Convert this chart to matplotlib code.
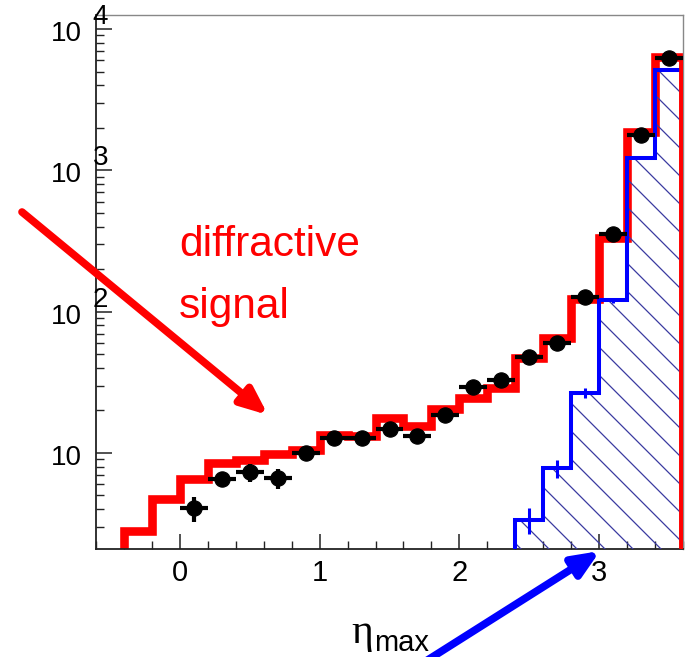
import numpy as np
import matplotlib
matplotlib.use("Agg")
import matplotlib.pyplot as plt
from matplotlib.patches import FancyArrowPatch
from matplotlib.ticker import MultipleLocator, LogLocator, NullFormatter, FixedLocator

# render at 84 dpi so that the hatch spacing (6 lines / inch) is ~14 px;
# all sizes below are given as "points at 100 dpi" and scaled by S
DPI = 84
S = 100.0 / DPI

plt.rcParams['font.family'] = ['Liberation Sans', 'DejaVu Sans']
plt.rcParams['hatch.linewidth'] = 0.9 * S

# ---------------- data ----------------
bin_edges = np.round(np.arange(-0.4, 3.6001, 0.2), 1)          # 20 bins
red_signal = [2.8, 4.7, 6.5, 8.5, 8.9, 9.8, 10.5, 13.4, 13.2, 17.7,
              15.5, 20.5, 24.6, 29.0, 47.0, 65.0, 122.0, 330.0, 1860.0, 6300.0]

data_x = [0.1, 0.3, 0.5, 0.7, 0.9, 1.1, 1.3, 1.5, 1.7, 1.9,
          2.1, 2.3, 2.5, 2.7, 2.9, 3.1, 3.3, 3.5]
data_y = [4.07, 6.5, 7.3, 6.65, 10.0, 12.8, 12.7, 14.8, 13.2, 18.6,
          29.4, 33.0, 48.0, 60.0, 126.0, 357.0, 1770.0, 6200.0]
data_err = [0.8, 0.8, 1.1, 1.1, 0.9, 0.8, 0.8, 0.9, 0.8, 1.0,
            1.3, 1.4, 1.8, 2.0, 3.0, 5.0, 12.0, 25.0]

blue_edges = [2.4, 2.6, 2.8, 3.0, 3.2, 3.4, 3.6]
blue_bkg = [3.35, 7.8, 26.7, 120.0, 1230.0, 5150.0]
blue_err = [0.7, 1.1, 2.3, 4.0, 12.0, 25.0]

yticks = [10, 100, 1000, 10000]
xticks = [0, 1, 2, 3]

# ---------------- figure ----------------
W, H = 686, 657
fig = plt.figure(figsize=(W / DPI, H / DPI), dpi=DPI)
L, R, T, B = 96, 683, 15, 549
ax = fig.add_axes([L / W, 1 - B / H, (R - L) / W, (B - T) / H])
ax.set_yscale('log')
ax.set_xlim(-0.6, 3.6)
ax.set_ylim(2.09, 12560)

# red signal histogram
ax.stairs(red_signal, bin_edges, baseline=1e-3, color='#ff0000', lw=6.2 * S, zorder=2)

# blue hatched background
ax.stairs(blue_bkg, blue_edges, baseline=1e-3, fill=True, facecolor='none',
          edgecolor='#3a3aa0', hatch='\\', lw=0, zorder=3)
ax.stairs(blue_bkg, blue_edges, baseline=1e-3, color='#0000ff', lw=2.9 * S, zorder=4)
bc = 0.5 * (np.array(blue_edges[:-1]) + np.array(blue_edges[1:]))
ax.errorbar(bc, blue_bkg, yerr=blue_err, fmt='none', ecolor='#0000ff',
            elinewidth=2.2 * S, capsize=0, zorder=4)
# red right edge on top
ax.vlines(bin_edges[-1], 1e-3, red_signal[-1], color='#ff0000', lw=6.2 * S, zorder=5)

# data points
ax.errorbar(data_x, data_y, xerr=0.1, yerr=data_err, fmt='o', color='black',
            ms=11 * S, elinewidth=3 * S, capsize=0, zorder=6)

# ---------------- axes styling ----------------
for s in ['left', 'bottom']:
    ax.spines[s].set_color('#222222')
    ax.spines[s].set_linewidth(1.3 * S)
for s in ['top', 'right']:
    ax.spines[s].set_color('#888888')
    ax.spines[s].set_linewidth(1.0 * S)

ax.xaxis.set_major_locator(FixedLocator(xticks))
ax.xaxis.set_minor_locator(MultipleLocator(0.2))
ax.set_xticklabels([str(t) for t in xticks])
ax.tick_params(axis='x', which='major', direction='in', length=11 * S, width=1.1 * S,
               labelsize=21 * S, pad=7 * S, top=False, color='#222222')
ax.tick_params(axis='x', which='minor', direction='in', length=6 * S, width=1.0 * S,
               top=False, color='#222222')

ax.yaxis.set_major_locator(FixedLocator(yticks))
ax.yaxis.set_minor_locator(LogLocator(base=10, subs=np.arange(2, 10)))
ax.yaxis.set_minor_formatter(NullFormatter())
ax.set_yticklabels([''] * len(yticks))
ax.tick_params(axis='y', which='major', direction='in', length=11.5 * S, width=1.1 * S,
               right=False, color='#222222')
ax.tick_params(axis='y', which='minor', direction='in', length=5.8 * S, width=1.0 * S,
               right=False, color='#222222')

for v in yticks:
    e = int(round(np.log10(v)))
    ax.annotate('10', xy=(0, v), xycoords=('axes fraction', 'data'),
                xytext=(-10 * S, -8.6 * S), textcoords='offset points',
                ha='right', va='baseline', fontsize=20 * S, color='black',
                annotation_clip=False)
    if e > 1:
        ax.annotate(str(e), xy=(0, v), xycoords=('axes fraction', 'data'),
                    xytext=(-2.4 * S, 3.6 * S), textcoords='offset points',
                    ha='left', va='baseline', fontsize=20 * S, color='black',
                    annotation_clip=False)

# axis title  eta_max
fig.text(351 / W, 1 - 643 / H, 'η', fontsize=30 * S, family='Liberation Serif',
         ha='left', va='baseline')
fig.text(374 / W, 1 - 651 / H, 'max', fontsize=21 * S, ha='left', va='baseline')

# annotation text
fig.text(179 / W, 1 - 256 / H, 'diffractive', fontsize=30.5 * S, color='#ff0000',
         ha='left', va='baseline')
fig.text(179 / W, 1 - 318 / H, 'signal', fontsize=30.5 * S, color='#ff0000',
         ha='left', va='baseline')

# arrows
def fp(x, y):
    return (x / W, 1 - y / H)

astyle = '-|>,head_length=0.8,head_width=0.34'
red_arrow = FancyArrowPatch(fp(22, 212), fp(268, 415), transform=fig.transFigure,
                            arrowstyle=astyle, mutation_scale=20 * S,
                            color='#ff0000', lw=5.5 * S, shrinkA=0, shrinkB=0)
fig.add_artist(red_arrow)
blue_arrow = FancyArrowPatch(fp(415, 668), fp(600, 551), transform=fig.transFigure,
                             arrowstyle=astyle, mutation_scale=20 * S,
                             color='#0000ff', lw=5.5 * S, shrinkA=0, shrinkB=0)
fig.add_artist(blue_arrow)

fig.savefig('out.png', dpi=DPI, facecolor='white')
